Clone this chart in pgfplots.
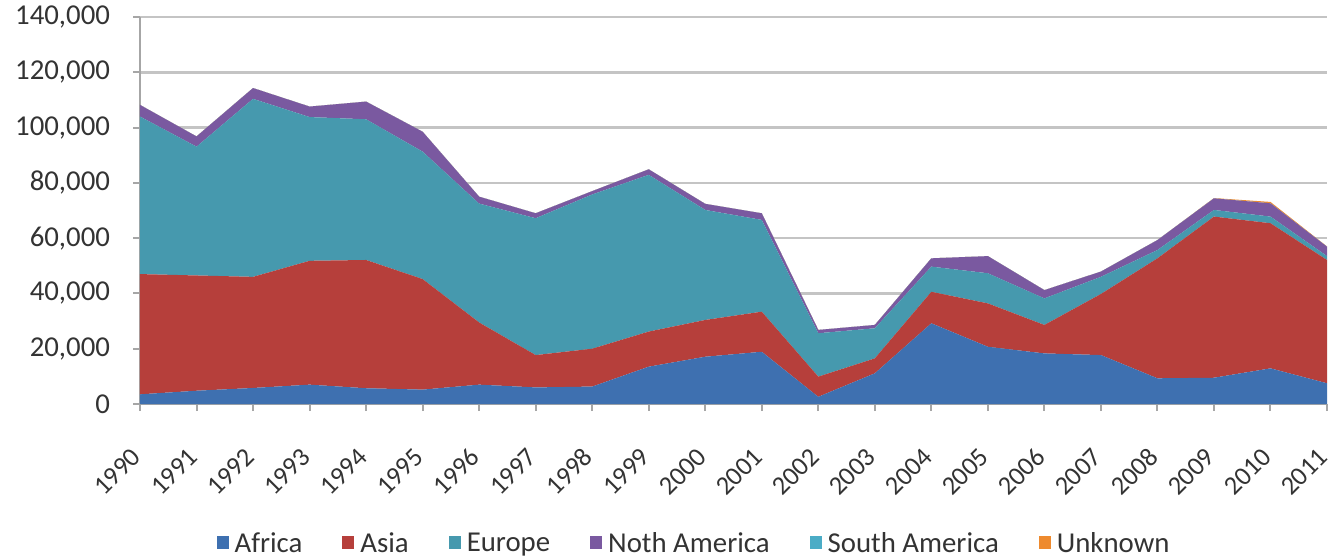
\documentclass[border=0pt]{standalone}
\usepackage{fontspec}
\setmainfont{Carlito}
\usepackage{pgfplots}
\usepackage{pgfplotstable}
\pgfplotsset{compat=1.18}
\definecolor{cAf}{HTML}{3E70B0}
\definecolor{cAs}{HTML}{B63F3B}
\definecolor{cEu}{HTML}{4699AE}
\definecolor{cNA}{HTML}{7A59A0}
\definecolor{cSA}{HTML}{4BACC6}
\definecolor{cUn}{HTML}{EE8A2E}
\definecolor{cGrid}{HTML}{C4C4C4}
\definecolor{cAxis}{HTML}{A6A6A6}
\pgfplotstableread{
year af as eu na sa un
1990 3500 43500 57000 4200 0 0
1991 4800 41700 46600 3700 0 0
1992 5800 40200 64400 3900 0 0
1993 7000 44800 52000 3800 0 0
1994 5700 46400 50900 6400 0 0
1995 5200 40000 46100 7200 0 0
1996 7000 22500 43000 2500 0 0
1997 6000 11700 49500 1800 0 0
1998 6300 13700 55800 1200 0 0
1999 13500 12700 56700 2000 0 0
2000 17100 13300 39800 2200 0 0
2001 18900 14500 33200 2400 0 0
2002 2600 7300 15700 1200 0 0
2003 11100 5400 10900 1200 0 0
2004 29200 11400 9100 3000 0 0
2005 20700 15700 10900 6200 0 0
2006 18300 10300 9600 3000 0 0
2007 17700 22100 6200 1900 0 0
2008 9300 43400 3000 3600 0 0
2009 9500 58300 2400 4200 0 100
2010 12900 52500 2400 4800 0 500
2011 7500 44600 1400 3400 0 100
}\data
\begin{document}
\begin{tikzpicture}[font=\fontsize{14.4}{17}\selectfont]
\begin{axis}[
  scale only axis, width=593.5pt, height=193.5pt,
  at={(0,0)}, anchor=south west,
  xmin=1990, xmax=2011, ymin=0, ymax=140000,
  stack plots=y,
  axis x line*=bottom, axis y line*=left,
  axis line style={draw=cAxis, line width=1pt},
  xtick={1990,...,2011}, ytick={0,20000,...,140000},
  ymajorgrids, grid style={draw=cGrid, line width=1.3pt},
  tick style={draw=cAxis, line width=1pt},
  tick align=outside, major tick length=3.5pt,
  /pgf/number format/assume math mode=true,
  tick label style={font=\fontsize{14.4}{17}\selectfont, text=black!80},
  xticklabel style={font=\fontsize{13.2}{16}\selectfont, xshift=1.5pt, yshift=-24pt, rotate=45, anchor=south east, inner sep=0pt, /pgf/number format/1000 sep={}},
  yticklabel style={xshift=-8pt, /pgf/number format/.cd, fixed, 1000 sep={,}},
  scaled y ticks=false,
  legend columns=6,
  legend style={at={(0.4676,-0.362)}, anchor=center, draw=none, fill=none,
    font=\fontsize{14.4}{17}\selectfont, text=black!80,
    /tikz/every even column/.append style={column sep=18pt},
    /tikz/every odd column/.append style={column sep=1pt}},
  legend image code/.code={\fill[#1] (0pt,-2.5pt) rectangle (6pt,4pt);},
]
\addplot[fill=cAf, draw=none] table[x=year,y=af] {\data} \closedcycle;
\addplot[fill=cAs, draw=none] table[x=year,y=as] {\data} \closedcycle;
\addplot[fill=cEu, draw=none] table[x=year,y=eu] {\data} \closedcycle;
\addplot[fill=cNA, draw=none] table[x=year,y=na] {\data} \closedcycle;
\addplot[fill=cSA, draw=none] table[x=year,y=sa] {\data} \closedcycle;
\addplot[fill=cUn, draw=none] table[x=year,y=un] {\data} \closedcycle;
\legend{Africa, Asia, Europe, Noth America, South America, Unknown}
\end{axis}
\pgfresetboundingbox
\path[use as bounding box] (-70pt,-77pt) rectangle (596.5pt,202pt);
\end{tikzpicture}
\end{document}
